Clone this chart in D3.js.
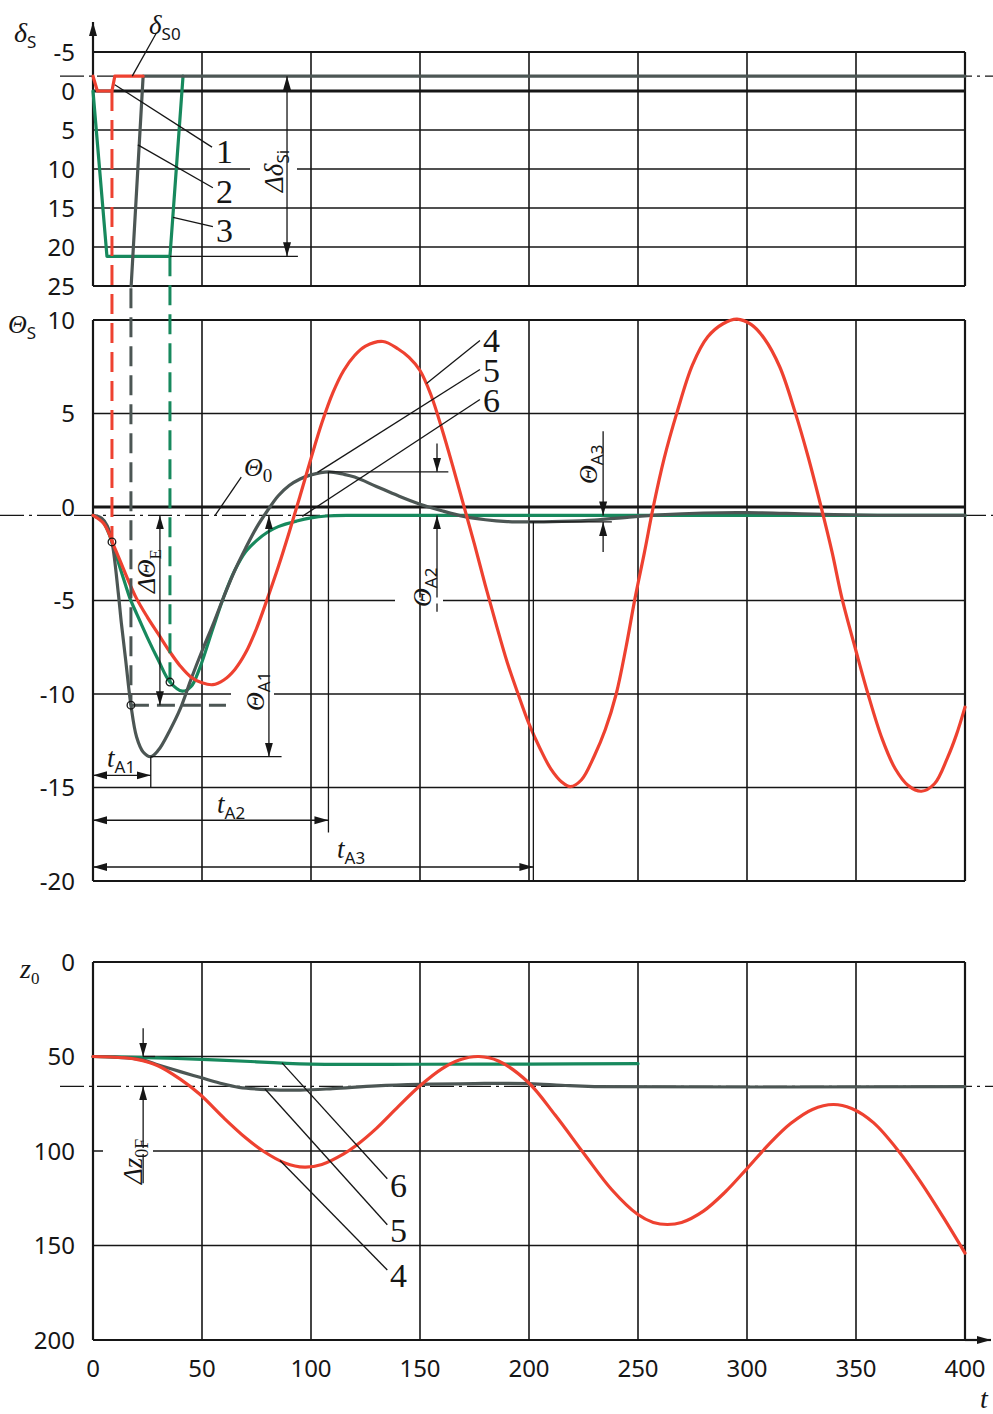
<!DOCTYPE html>
<html>
<head>
<meta charset="utf-8">
<script src="https://cdn.jsdelivr.net/npm/d3@7"></script>
<style>
  body { margin: 0; background: #fff; }
  svg { display: block; }
</style>
</head>
<body>
<svg id="chart" width="993" height="1414"></svg>
<script>
// ---- ticks ----
const tTicks = [0, 50, 100, 150, 200, 250, 300, 350, 400];
const deltaTicks = [-5, 0, 5, 10, 15, 20, 25];
const thetaTicks = [10, 5, 0, -5, -10, -15, -20];
const zTicks = [0, 50, 100, 150, 200];

// ---- rudder angle δS (curves 1-3) ----
const delta0 = -1.9;
const rud1T = [0, 2, 8.7, 10, 23];
const rud1V = [-1.9, 0, 0, -1.9, -1.9];
const rud2T = [17.5, 23, 400];
const rud2V = [25, -1.9, -1.9];
const rud3T = [0, 6.4, 35.3, 41.3];
const rud3V = [0, 21.2, 21.2, -1.9];

// ---- pitch angle ΘS (curves 4-6) ----
const theta0 = -0.45;
const th4T = [0, 5, 10, 15, 20, 25, 30, 35, 40, 45, 50, 55, 60, 65, 70, 75, 80, 85, 90, 95, 100, 105, 110, 115, 120, 125, 133, 140, 145, 150, 155, 160, 165, 170, 175, 180, 185, 190, 195, 200, 205, 210, 215, 219, 224, 230, 235, 240, 244.5, 248.6, 253, 257, 262, 268, 275, 282, 289, 295.4, 302, 308, 315, 322, 328, 334, 339, 343.6, 350, 355.5, 362, 368, 374, 380, 386, 392, 396, 400];
const th4V = [-0.45, -0.9, -2.2, -3.6, -4.9, -5.9, -6.8, -7.7, -8.5, -9.1, -9.4, -9.5, -9.25, -8.7, -7.8, -6.5, -4.9, -3.2, -1.35, 0.6, 2.6, 4.5, 6.1, 7.3, 8.1, 8.6, 8.85, 8.45, 8.0, 7.3, 6.0, 4.2, 2.2, 0.1, -2.0, -4.2, -6.3, -8.3, -10.0, -11.6, -12.9, -14.0, -14.7, -14.95, -14.6, -13.3, -11.9, -10.0, -7.5, -4.9, -2.4, 0, 2.6, 5.1, 7.6, 9.1, 9.8, 10.05, 9.75, 9.0, 7.5, 5.1, 2.7, 0, -2.4, -4.9, -7.7, -10.0, -12.4, -14.0, -14.9, -15.2, -14.8, -13.4, -12.2, -10.7];
const th5T = [0, 4, 6.5, 8.7, 11.6, 13, 15, 17.4, 20, 23, 26.5, 30, 35, 40, 45, 50, 55, 60, 65, 70, 75, 80, 85, 90, 95, 100, 108, 115, 120, 130, 140, 150, 160, 170, 180, 190, 200, 215, 230, 245, 260, 280, 300, 330, 360, 400];
const th5V = [-0.45, -0.6, -1.0, -1.87, -4.6, -6.2, -8.2, -10.6, -12.3, -13.1, -13.35, -13.0, -12.0, -10.8, -9.2, -7.7, -6.3, -4.8, -3.4, -2.2, -1.1, -0.2, 0.6, 1.15, 1.5, 1.72, 1.88, 1.75, 1.6, 1.1, 0.6, 0.15, -0.2, -0.5, -0.68, -0.78, -0.8, -0.77, -0.7, -0.55, -0.42, -0.32, -0.3, -0.38, -0.44, -0.45];
const th6T = [0, 4, 6.5, 8.7, 12, 15, 17, 20, 25, 30, 35.3, 41, 45, 49, 55, 60, 65, 70, 75, 80, 85, 93.5, 100, 107, 120, 150, 400];
const th6V = [-0.45, -0.7, -1.2, -1.87, -3.1, -4.2, -4.9, -5.7, -7.0, -8.2, -9.36, -9.85, -9.6, -8.6, -6.5, -4.8, -3.4, -2.4, -1.8, -1.35, -1.05, -0.75, -0.58, -0.48, -0.45, -0.45, -0.45];

// ---- depth z0 (curves 4-6) ----
const z0F = 65.8;
const z4T = [0, 10, 20, 30, 40, 49, 60, 70, 78, 88, 97, 105, 115, 121, 130, 140, 150, 160, 168, 177, 186, 199.5, 212, 225.6, 238, 249.8, 257, 263.5, 270, 280, 290, 300, 310, 320, 330, 339.6, 348, 358, 369.5, 380, 390, 400];
const z4V = [50, 50.4, 51.5, 55, 62, 70, 82.5, 93, 100, 106.3, 108.5, 107.1, 101.5, 96.8, 88, 76.5, 65.5, 56.5, 51.8, 50, 52.4, 63.5, 81, 102, 120.5, 133.5, 137.8, 138.9, 137.8, 131.8, 121.7, 109.3, 96.5, 85.5, 78, 75.4, 77.5, 85, 100, 117, 135, 154];
const z5T = [0, 10, 20, 24, 30, 40, 49, 58, 67, 80, 95, 110, 130, 150, 175, 200, 215, 230, 400];
const z5V = [50, 50.3, 51.3, 52.2, 54.5, 58, 61, 64, 66.3, 67.5, 67.8, 67, 65.5, 64.7, 64.3, 64.3, 65.2, 65.9, 65.9];
const z6T = [0, 24, 50, 75, 87, 100, 150, 200, 250];
const z6V = [50, 50.6, 51.5, 52.8, 53.5, 54, 54.1, 54, 53.8];

// ---- colours ----
const RED = "#ee4130", GRAY = "#4c5654", GREEN = "#17895d", INK = "#161616";
const SERIF = "'Liberation Serif', 'DejaVu Serif', serif";
const SANS = "'Noto Sans', 'DejaVu Sans', sans-serif";

const svg = d3.select("#chart");
const x = d3.scaleLinear().domain([0, 400]).range([93, 965]);
const yD = d3.scaleLinear().domain([-5, 25]).range([52, 286]);
const yT = d3.scaleLinear().domain([10, -20]).range([320, 881]);
const yZ = d3.scaleLinear().domain([0, 200]).range([962, 1340]);

const defs = svg.append("defs");
defs.append("marker")
  .attr("id", "ah")
  .attr("viewBox", "-14 -5 15 10")
  .attr("refX", 0).attr("refY", 0)
  .attr("markerWidth", 15).attr("markerHeight", 10)
  .attr("markerUnits", "userSpaceOnUse")
  .attr("orient", "auto-start-reverse")
  .append("path").attr("d", "M0,0 L-14,-4 L-14,4 Z").attr("fill", INK);

const gGrid = svg.append("g");
const gLines = svg.append("g");
const gAnno = svg.append("g");

function seg(g, x1, y1, x2, y2, w, col) {
  return g.append("line")
    .attr("x1", x1).attr("y1", y1).attr("x2", x2).attr("y2", y2)
    .attr("stroke", col || INK).attr("stroke-width", w || 1.5);
}

// ---- panel grids ----
function panel(y, ticks, zero, top, bottom) {
  ticks.forEach(v => {
    const w = v === zero ? 2.8 : (v === top || v === bottom ? 2.2 : 1.6);
    seg(gGrid, x(0), y(v), x(400), y(v), w);
  });
  tTicks.forEach(t => {
    seg(gGrid, x(t), y(top), x(t), y(bottom), t === 0 || t === 400 ? 2.2 : 1.6);
  });
  gGrid.selectAll(null).data(ticks).enter().append("text")
    .attr("x", 75).attr("y", d => y(d)).attr("dy", "0.36em")
    .attr("text-anchor", "end")
    .style("font-family", SANS).style("font-size", "24px").attr("fill", INK)
    .text(d => d);
}
panel(yD, deltaTicks, 0, -5, 25);
panel(yT, thetaTicks, 0, 10, -20);
panel(yZ, zTicks, null, 0, 200);

// vertical arrow of δS axis, horizontal arrow of t axis
seg(gGrid, x(0), yD(-5), x(0), 22, 2.2).attr("marker-end", "url(#ah)");
seg(gGrid, x(400), yZ(200), 991, yZ(200), 2.2).attr("marker-end", "url(#ah)");

// x tick labels
gGrid.selectAll(null).data(tTicks).enter().append("text")
  .attr("x", d => x(d)).attr("y", 1368).attr("dy", "0.36em")
  .attr("text-anchor", "middle")
  .style("font-family", SANS).style("font-size", "24px").attr("fill", INK)
  .text(d => d);

// dash-dot reference lines
const dashDot = "24,5,3,5";
seg(gGrid, 60, yD(delta0), 993, yD(delta0), 1.3).attr("stroke-dasharray", dashDot);
seg(gGrid, 0, yT(theta0), 993, yT(theta0), 1.3).attr("stroke-dasharray", dashDot);
seg(gGrid, 60, yZ(z0F), 993, yZ(z0F), 1.3).attr("stroke-dasharray", dashDot);

// white gaps behind rotated labels
function gap(x0, y0, w, h) {
  gAnno.append("rect").attr("x", x0).attr("y", y0).attr("width", w).attr("height", h).attr("fill", "#fff");
}

// ---- curves ----
function curve(T, V, y, col, smooth) {
  const line = d3.line().x(d => x(d[0])).y(d => y(d[1]));
  if (smooth) line.curve(d3.curveCatmullRom.alpha(0.5));
  gLines.append("path")
    .datum(T.map((t, i) => [t, V[i]]))
    .attr("d", line)
    .attr("fill", "none").attr("stroke", col).attr("stroke-width", 3.2)
    .attr("stroke-linejoin", "round").attr("stroke-linecap", "round");
}
curve(rud3T, rud3V, yD, GREEN, false);
curve(rud2T, rud2V, yD, GRAY, false);
curve(rud1T, rud1V, yD, RED, false);

curve(th6T, th6V, yT, GREEN, true);
curve(th5T, th5V, yT, GRAY, true);
curve(th4T, th4V, yT, RED, true);

curve(z6T, z6V, yZ, GREEN, true);
curve(z5T, z5V, yZ, GRAY, true);
curve(z4T, z4V, yZ, RED, true);

// dashed guide lines from rudder reversal to Θ curve
const dashed = "20,9";
seg(gLines, x(8.7), yD(0), x(8.7), yT(-1.87), 3, RED).attr("stroke-dasharray", dashed);
seg(gLines, x(17.4), yD(25.3), x(17.4), yT(-10.6), 3, GRAY).attr("stroke-dasharray", dashed);
seg(gLines, x(35.3), yD(21.2), x(35.3), yT(-9.36), 3, GREEN).attr("stroke-dasharray", dashed);
seg(gLines, x(17.4), yT(-10.6), x(61), yT(-10.6), 3, GRAY).attr("stroke-dasharray", "18,8");

[[8.7, -1.87], [17.4, -10.6], [35.3, -9.36]].forEach(p => {
  gLines.append("circle").attr("cx", x(p[0])).attr("cy", yT(p[1])).attr("r", 3.8)
    .attr("fill", "none").attr("stroke", INK).attr("stroke-width", 1.3);
});

// ---- text helpers ----
function sym(g, px, py, main, sub, opt) {
  opt = opt || {};
  const t = g.append("text").attr("fill", INK)
    .attr("transform", `translate(${px},${py})` + (opt.rot ? " rotate(-90)" : ""));
  t.append("tspan").text(main)
    .style("font-family", SERIF).style("font-style", "italic")
    .style("font-size", (opt.size || 26) + "px");
  if (sub) {
    t.append("tspan").text(sub).attr("dy", opt.subDy || 6)
      .style("font-family", opt.subFont || SANS)
      .style("font-size", (opt.subSize || 17) + "px");
  }
  return t;
}
function num(g, px, py, s) {
  g.append("text").attr("x", px).attr("y", py).text(s)
    .style("font-family", SERIF).style("font-size", "34px").attr("fill", INK);
}
function arrowLine(x1, y1, x2, y2, both) {
  const l = seg(gAnno, x1, y1, x2, y2, 1.3).attr("marker-end", "url(#ah)");
  if (both) l.attr("marker-start", "url(#ah)");
  return l;
}

// ---- axis titles ----
sym(gAnno, 14, 42, "δ", "S", { size: 28 });
sym(gAnno, 8, 333, "Θ", "S", { size: 26 });
sym(gAnno, 20, 978, "z", "0", { size: 28, subFont: SERIF });
sym(gAnno, 980, 1408, "t", null, { size: 28 });

// ---- top panel annotations ----
sym(gAnno, 149, 34, "δ", "S0", { size: 27, subSize: 17 });
seg(gAnno, x(29), yD(-7.4), x(18), yD(delta0), 1.3);
seg(gAnno, x(10), yD(-0.8), x(54.6), yD(7.2), 1.3);
seg(gAnno, x(20.6), yD(6.9), x(55), yD(12.4), 1.3);
seg(gAnno, x(36.7), yD(16.2), x(55), yD(17.4), 1.3);
num(gAnno, 216, 163, "1");
num(gAnno, 216, 203, "2");
num(gAnno, 216, 242, "3");

seg(gAnno, x(35.3), yD(21.2), x(94), yD(21.2), 1.3);
gap(250, yD(10) - 3, 47, 6);
arrowLine(x(89), yD(delta0), x(89), yD(21.2), true);
sym(gAnno, 283, 192, "Δδ", "Si", { rot: true, size: 27, subSize: 17 });

// ---- middle panel annotations ----
sym(gAnno, 244, 476, "Θ", "0", { size: 26, subFont: SERIF, subSize: 19 });
seg(gAnno, x(68), yT(1.6), x(56), yT(theta0), 1.3);

// ΔΘE
arrowLine(x(30.7), yT(theta0), x(30.7), yT(-10.6), true);
sym(gAnno, 155, 593, "ΔΘ", "E", { rot: true, size: 26, subFont: SERIF });

// ΘA1
seg(gAnno, x(26.5), yT(-13.35), x(86.5), yT(-13.35), 1.3);
gap(231, yT(-10) - 3, 43, 6);
arrowLine(x(80.7), yT(theta0), x(80.7), yT(-13.35), true);
sym(gAnno, 264, 711, "Θ", "A1", { rot: true, size: 26 });

// tA1, tA2, tA3
seg(gAnno, x(26.5), yT(-13.35), x(26.5), yT(-15), 1.3);
arrowLine(x(0), yT(-14.35), x(26.5), yT(-14.35), true);
sym(gAnno, 107, 767, "t", "A1", { size: 27 });

seg(gAnno, x(108), yT(1.88), x(108), yT(-17.4), 1.3);
seg(gAnno, x(108), yT(1.88), x(163), yT(1.88), 1.3);
arrowLine(x(0), yT(-16.75), x(108), yT(-16.75), true);
sym(gAnno, 217, 813, "t", "A2", { size: 27 });

seg(gAnno, x(202), yT(-0.8), x(202), yT(-20), 1.3);
seg(gAnno, x(200), yT(-0.8), x(238), yT(-0.8), 1.3);
arrowLine(x(0), yT(-19.25), x(202), yT(-19.25), true);
sym(gAnno, 337, 858, "t", "A3", { size: 27 });

// ΘA2
arrowLine(x(157.8), yT(3.4), x(157.8), yT(1.88));
arrowLine(x(157.8), yT(-5.6), x(157.8), yT(theta0));
gap(395, yT(-5) - 3, 48, 6);
sym(gAnno, 431, 607, "Θ", "A2", { rot: true, size: 26 });

// ΘA3
arrowLine(x(234), yT(4.05), x(234), yT(theta0));
arrowLine(x(234), yT(-2.4), x(234), yT(-0.8));
sym(gAnno, 597, 484, "Θ", "A3", { rot: true, size: 26 });

// 4, 5, 6 leaders (middle)
seg(gAnno, x(153), yT(6.6), x(177.5), yT(8.9), 1.3);
seg(gAnno, x(103), yT(1.85), x(177.5), yT(7.35), 1.3);
seg(gAnno, x(96), yT(-0.5), x(177.5), yT(5.75), 1.3);
num(gAnno, 483, 352, "4");
num(gAnno, 483, 382, "5");
num(gAnno, 483, 412, "6");

// ---- bottom panel annotations ----
arrowLine(x(23), yZ(35), x(23), yZ(50));
arrowLine(x(23), yZ(117), x(23), yZ(z0F));
seg(gAnno, x(23), yZ(50), x(28.5), yZ(50), 1.3);
gap(103, yZ(100) - 3, 50, 6);
sym(gAnno, 142, 1184, "Δz", "0F", { rot: true, size: 27, subFont: SERIF, subSize: 18 });

seg(gAnno, x(86.7), yZ(53.4), x(135), yZ(114.7), 1.3);
seg(gAnno, x(78.9), yZ(67.2), x(135), yZ(139), 1.3);
seg(gAnno, x(85.8), yZ(105), x(135), yZ(163), 1.3);
num(gAnno, 390, 1197, "6");
num(gAnno, 390, 1242, "5");
num(gAnno, 390, 1287, "4");
</script>
</body>
</html>
